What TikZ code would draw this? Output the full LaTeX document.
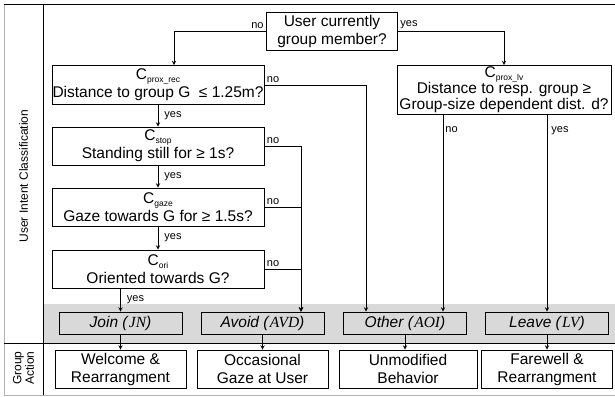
\documentclass[tikz,border=0pt]{standalone}
\usepackage{fontspec}
\setmainfont{Liberation Sans}
\newfontfamily\mathSerif{Liberation Serif}
\usetikzlibrary{calc}

\newcommand{\critName}[1]{C\raisebox{-0.35ex}{\fontsize{8.5}{9}\selectfont #1}}
\newcommand{\intentName}[2]{\textit{#1 (}{\mathSerif\itshape #2}\textit{)}}

\begin{document}
\begin{tikzpicture}
[x=1pt,y=-1pt,line width=0.9pt,%
  arrowDecorate/.style={->,>=stealth},%
  boxDecorate/.style={shape=rectangle,draw,align=center,inner sep=0pt,font=\fontsize{15.5}{18}\selectfont},%
  critDecorate/.style={boxDecorate,minimum width=212,minimum height=38},%
  intentDecorate/.style={boxDecorate,fill=gray!30,minimum width=123,minimum height=22},%
  actionDecorate/.style={boxDecorate,minimum width=131,minimum height=38},%
  labelDecorate/.style={font=\fontsize{11}{12}\selectfont,inner sep=2pt}]
\useasboundingbox (0,0) rectangle (615,396);
%% frame and band
\fill[gray!30] (44,304) rectangle (615,343);
\draw[gray!60] (4,4) -- (4,395) -- (615,395);
\draw (4,4) -- (615,4);
\draw (43.5,4) -- (43.5,395);
\draw (4,343) -- (615,343);
\node (intentLabel) at (23.5,176) [rotate=90,font=\fontsize{12}{14}\selectfont] {User Intent Classification};
\node (actionLabel) at (23.5,368) [rotate=90,align=center,font=\fontsize{12}{12.5}\selectfont] {Group\\Action};
%% criteria
\node (member) at (332,31) [boxDecorate,minimum width=131,minimum height=38] {User currently\\group member?};
\node (proxrec) at (158,85) [critDecorate,minimum height=39] {\critName{prox\_rec}\\Distance to group G~ ≤ 1.25m?};
\node (stop) at (158,146) [critDecorate] {\critName{stop}\\Standing still for ≥ 1s?};
\node (gaze) at (158,207) [critDecorate] {\critName{gaze}\\Gaze towards G for ≥ 1.5s?};
\node (ori) at (158,269) [critDecorate] {\critName{ori}\\Oriented towards G?};
\node (proxlv) at (504,90) [critDecorate,minimum width=214,minimum height=49,font=\fontsize{15.5}{16}\selectfont] {\critName{prox\_lv}\\Distance to resp. group ≥\\Group-size dependent dist. d?};
%% intents
\node (join) at (120.5,323) [intentDecorate] {\intentName{Join}{JN}};
\node (avoid) at (262.5,323) [intentDecorate] {\intentName{Avoid}{AVD}};
\node (other) at (405,323) [intentDecorate] {\intentName{Other}{AOI}};
\node (leave) at (547,323) [intentDecorate] {\intentName{Leave}{LV}};
%% group actions
\node (welcome) at (120.5,369) [actionDecorate] {Welcome \&\\Rearrangment};
\node (occasional) at (262.5,369) [actionDecorate] {Occasional\\Gaze at User};
\node (unmodified) at (408,369) [actionDecorate,minimum width=138] {Unmodified\\Behavior};
\node (farewell) at (547,369) [actionDecorate] {Farewell \&\\Rearrangment};
%% entry points
\coordinate (recIn) at ($(proxrec.north)+(16,0)$);
\coordinate (avoidIn) at ($(avoid.north)+(38.5,0)$);
\coordinate (otherInA) at ($(other.north)+(-39,0)$);
\coordinate (otherInB) at ($(other.north)+(38,0)$);
%% edges
\path
\foreach \startnode/\endnode in {proxrec/stop, stop/gaze, gaze/ori}
{
  (\startnode) edge[arrowDecorate] node[labelDecorate,right,xshift=4pt] {yes} (\endnode)
};
\path
\foreach \startnode/\endnode in {join/welcome, avoid/occasional, leave/farewell}
{
  (\startnode) edge[arrowDecorate] (\endnode)
};
\draw[arrowDecorate] (other.south) -- (other.south |- unmodified.north);
\draw[arrowDecorate] (ori.south -| join.north) -- node[labelDecorate,right,xshift=4pt] {yes} (join.north);
\draw[arrowDecorate] (member.west) node[labelDecorate,anchor=south east] {no} -| (recIn);
\draw[arrowDecorate] (member.east) node[labelDecorate,anchor=south west] {yes} -| (proxlv.north);
\draw[arrowDecorate] (proxrec.east) node[labelDecorate,anchor=south west] {no} -| (otherInA);
\foreach \nodename in {stop, gaze, ori}
{
  \draw[arrowDecorate] (\nodename.east) node[labelDecorate,anchor=south west] {no} -| (avoidIn);
}
\draw[arrowDecorate] (proxlv.south -| otherInB) node[labelDecorate,anchor=north west,yshift=-9pt] {no} -- (otherInB);
\draw[arrowDecorate] (proxlv.south -| leave.north) node[labelDecorate,anchor=north west,xshift=2pt,yshift=-9pt] {yes} -- (leave.north);
\end{tikzpicture}
\end{document}
